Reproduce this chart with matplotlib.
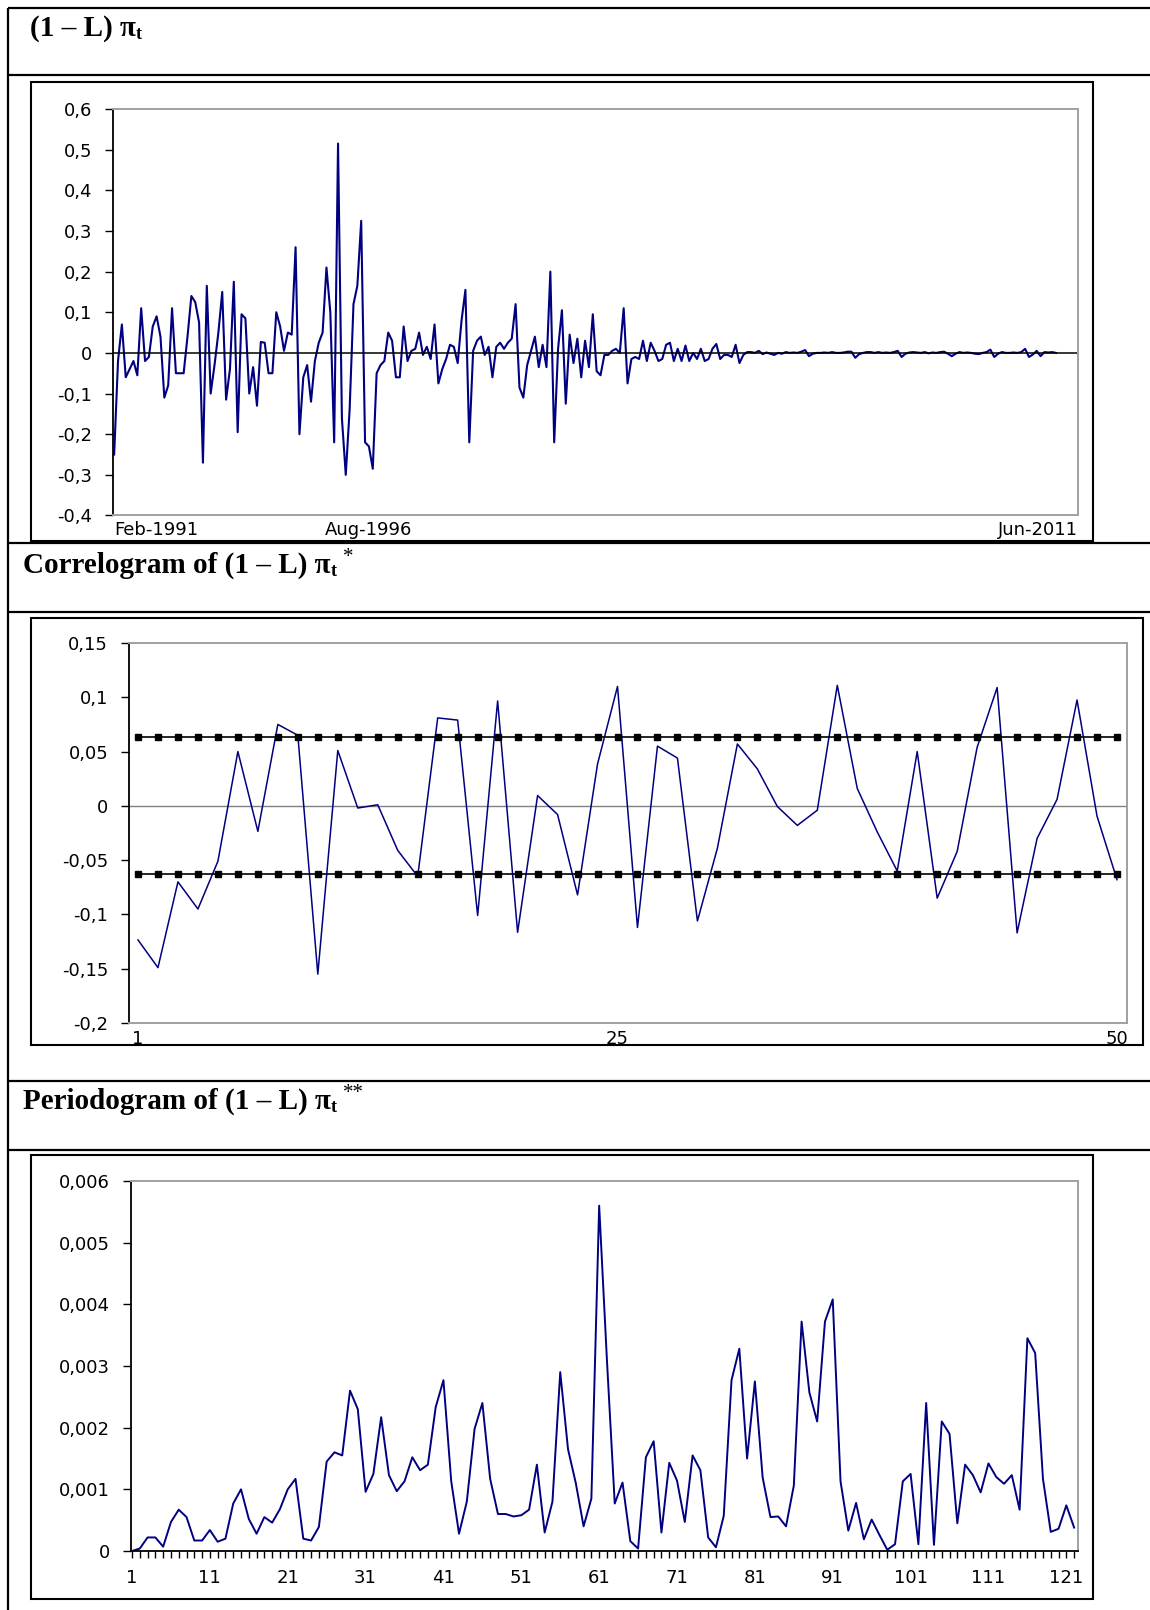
import numpy as np
import matplotlib
matplotlib.use('Agg')
import matplotlib.pyplot as plt
from matplotlib.patches import Rectangle
from matplotlib.ticker import FuncFormatter

W, H = 1150, 1610

# (1 - L) pi_t, monthly, Feb-1991 .. Jun-2011
dpi_values = [
    -0.25, -0.02, 0.07, -0.06, -0.04, -0.02, -0.055, 0.11, -0.02, -0.01,
    0.065, 0.09, 0.04, -0.11, -0.08, 0.11, -0.05, -0.05, -0.05, 0.04,
    0.14, 0.125, 0.075, -0.27, 0.165, -0.10, -0.03, 0.05, 0.15, -0.115,
    -0.04, 0.175, -0.195, 0.095, 0.085, -0.10, -0.035, -0.13, 0.027, 0.025,
    -0.05, -0.05, 0.10, 0.065, 0.005, 0.05, 0.045, 0.26, -0.20, -0.06,
    -0.03, -0.12, -0.02, 0.025, 0.05, 0.21, 0.10, -0.22, 0.515, -0.16,
    -0.30, -0.14, 0.12, 0.165, 0.325, -0.22, -0.23, -0.285, -0.05, -0.03,
    -0.02, 0.05, 0.03, -0.06, -0.06, 0.065, -0.02, 0.005, 0.01, 0.05,
    -0.005, 0.015, -0.015, 0.07, -0.075, -0.04, -0.015, 0.02, 0.015, -0.025,
    0.08, 0.155, -0.22, 0.005, 0.03, 0.04, -0.005, 0.015, -0.06, 0.015,
    0.025, 0.01, 0.025, 0.035, 0.12, -0.085, -0.11, -0.03, 0.005, 0.04,
    -0.035, 0.02, -0.035, 0.20, -0.22, 0.01, 0.105, -0.125, 0.045, -0.025,
    0.035, -0.06, 0.03, -0.035, 0.095, -0.045,
    -0.055, -0.005, -0.005, 0.005, 0.01, 0.0, 0.11, -0.075, -0.015, -0.01,
    -0.015, 0.03, -0.02, 0.025, 0.005, -0.02, -0.015, 0.02, 0.025, -0.02,
    0.01, -0.02, 0.018, -0.02, 0.0, -0.015, 0.01, -0.02, -0.015, 0.01,
    0.022, -0.015, -0.005, -0.005, -0.01, 0.02, -0.025, -0.005, 0.002,
    0.002, 0.0, 0.005, -0.003, 0.001, -0.002, -0.005, 0.0, -0.002, 0.002,
    0.0, 0.001, 0.0, 0.003, 0.007, -0.008, -0.002, 0.0, 0.0, 0.001,
    0.0, 0.002, 0.0, 0.0, 0.001, 0.003, 0.003, -0.012, -0.003, 0.0,
    0.002, 0.002, 0.0, 0.002, 0.0, 0.001, 0.0, 0.002, 0.005, -0.01,
    -0.002, 0.001, 0.002, 0.001, 0.0, 0.002, -0.001, 0.001, 0.0, 0.002,
    0.003, -0.002, -0.008, -0.002, 0.002, 0.0, 0.001, 0.0, -0.002, -0.003,
    0.0, 0.002, 0.008, -0.01, -0.002, 0.002, 0.0, 0.0, 0.001, 0.0,
    0.002, 0.01, -0.01, -0.004, 0.005, -0.008, 0.002, 0.001, 0.002, 0.0,
]
date_labels = ['Feb-1991', 'Aug-1996', 'Jun-2011']
date_label_pos = [0, 66]          # Jun-2011 sits at the right end of the axis
dpi_yticks = [-0.4, -0.3, -0.2, -0.1, 0, 0.1, 0.2, 0.3, 0.4, 0.5, 0.6]

# correlogram
acf_lags = list(range(1, 51))
acf_values = [
    -0.1235, -0.149, -0.070, -0.095, -0.051, 0.050, -0.0235, 0.075, 0.065, -0.155,
    0.051, -0.002, 0.001, -0.041, -0.065, 0.081, 0.079, -0.101, 0.0966, -0.1165,
    0.0095, -0.008, -0.082, 0.0385, 0.110, -0.112, 0.055, 0.044, -0.106, -0.039,
    0.057, 0.034, -0.0006, -0.018, -0.004, 0.111, 0.016, -0.024, -0.060, 0.050,
    -0.085, -0.042, 0.054, 0.109, -0.117, -0.030, 0.006, 0.0975, -0.0095, -0.068,
]
acf_band = 0.063
acf_xticks = [1, 25, 50]
acf_yticks = [-0.2, -0.15, -0.1, -0.05, 0, 0.05, 0.1, 0.15]

# periodogram
per_freq = list(range(1, 123))
per_values = [
    0.0, 0.00004, 0.00022, 0.00022, 0.00007, 0.00047, 0.00067, 0.00055, 0.00017, 0.00017,
    0.00034, 0.00015, 0.0002, 0.00077, 0.001, 0.00052, 0.00028, 0.00055, 0.00046, 0.00068,
    0.001, 0.00117, 0.0002, 0.00017, 0.00039, 0.00145, 0.0016, 0.00155, 0.0026, 0.0023,
    0.00096, 0.00125, 0.00217, 0.00123, 0.00097, 0.00113, 0.00152, 0.00131, 0.0014, 0.00233,
    0.00277, 0.00113, 0.00028, 0.0008, 0.00198, 0.0024, 0.00117, 0.0006, 0.0006, 0.00056,
    0.00058, 0.00067, 0.0014, 0.0003, 0.0008, 0.0029, 0.00165, 0.0011, 0.0004, 0.00085,
    0.0056, 0.00309, 0.00077, 0.00111, 0.00016, 0.00004, 0.00152, 0.00178, 0.0003, 0.00143,
    0.00114, 0.00047, 0.00155, 0.00131, 0.00022, 0.00006, 0.00057, 0.00277, 0.00328, 0.0015,
    0.00275, 0.00119, 0.00055, 0.00056, 0.0004, 0.00106, 0.00372, 0.00257, 0.0021, 0.00372,
    0.00408, 0.00113, 0.00033, 0.00078, 0.00019, 0.00051, 0.00026, 0.00002, 0.00011, 0.00113,
    0.00125, 0.00011, 0.0024, 0.0001, 0.0021, 0.0019, 0.00045, 0.0014, 0.00123, 0.00095,
    0.00142, 0.0012, 0.00109, 0.00123, 0.00067, 0.00345, 0.00321, 0.00117, 0.00031, 0.00036,
    0.00074, 0.00038,
]
per_xticks = list(range(1, 122, 10))
per_yticks = [0, 0.001, 0.002, 0.003, 0.004, 0.005, 0.006]

NAVY = '#000080'
GREY = '#a0a0a0'
SERIF = 'Liberation Serif'
plt.rcParams['font.family'] = ['DejaVu Sans']

fig = plt.figure(figsize=(W / 100, H / 100), dpi=100)

# background layer in pixel coordinates for the table frame and titles
bg = fig.add_axes([0, 0, 1, 1], zorder=0)
bg.set_xlim(0, W)
bg.set_ylim(H, 0)
bg.axis('off')

for y in [8, 75, 543, 612, 1081, 1150]:
    bg.plot([8, W], [y, y], color='black', lw=1.6, solid_capstyle='butt')
bg.plot([8, 8], [8, H], color='black', lw=1.6, solid_capstyle='butt')

for (x0, y0, x1, y1) in [(31, 82, 1093, 541), (31, 618, 1143, 1045), (31, 1155, 1093, 1599)]:
    bg.add_patch(Rectangle((x0, y0), x1 - x0, y1 - y0, fill=False,
                           edgecolor='black', lw=1.5))


def title(x, y, txt, stars='', star_base=None):
    main = bg.text(x, y, txt, fontsize=21, fontweight='bold', family=SERIF,
                   va='baseline', ha='left')
    sub = bg.annotate('t', xy=(1, 0), xycoords=main, xytext=(0, -1),
                      textcoords='offset pixels', fontsize=13, fontweight='bold',
                      family=SERIF, va='bottom', ha='left')
    if stars:
        bg.annotate(stars, xy=(1, star_base), xycoords=(sub, 'data'), xytext=(6, 0),
                    textcoords='offset pixels', fontsize=15, family=SERIF,
                    va='baseline', ha='left')


title(30, 36, '(1 – L) π')
title(23, 573, 'Correlogram of (1 – L) π', '*', 562)
title(23, 1109, 'Periodogram of (1 – L) π', '**', 1098)


def px_axes(l, t, r, b):
    ax = fig.add_axes([l / W, 1 - b / H, (r - l) / W, (b - t) / H], zorder=1)
    ax.patch.set_alpha(0)
    for s in ['top', 'right', 'bottom']:
        ax.spines[s].set_color(GREY)
        ax.spines[s].set_linewidth(1.4)
    ax.spines['left'].set_color('black')
    ax.spines['left'].set_linewidth(1.3)
    ax.tick_params(axis='y', direction='out', length=6, width=1, pad=9,
                   labelsize=13)
    ax.yaxis.set_major_formatter(FuncFormatter(lambda v, p: f'{v:g}'.replace('.', ',')))
    return ax


# chart 1: the differenced series
ax1 = px_axes(113, 109, 1078, 515.5)
x1 = np.arange(len(dpi_values))
ax1.plot(x1, dpi_values, color=NAVY, lw=1.5)
ax1.axhline(0, color='black', lw=1.1)
ax1.set_ylim(-0.4, 0.6)
ax1.set_yticks(dpi_yticks)
ax1.set_xlim(-0.3, len(dpi_values) + 4.7)
ax1.set_xticks(date_label_pos + [ax1.get_xlim()[1]])
ax1.set_xticklabels(date_labels)
for lab, ha in zip(ax1.get_xticklabels(), ['left', 'center', 'right']):
    lab.set_ha(ha)
ax1.tick_params(axis='x', length=0, pad=4, labelsize=13)

# chart 2: correlogram with +-band
ax2 = px_axes(129, 643, 1127, 1023)
ax2.axhline(0, color='#808080', lw=1)
ax2.plot(acf_lags, acf_values, color=NAVY, lw=1.1, zorder=3)
for b in [acf_band, -acf_band]:
    ax2.plot(acf_lags, [b] * len(acf_lags), color='black', lw=1.2,
             marker='s', ms=4.5, zorder=4)
ax2.set_ylim(-0.2, 0.15)
ax2.set_yticks(acf_yticks)
ax2.set_xlim(0.55, 50.5)
ax2.set_xticks(acf_xticks)
ax2.tick_params(axis='x', length=0, pad=5, labelsize=13)

# chart 3: periodogram
ax3 = px_axes(131, 1181, 1078, 1551)
ax3.plot(per_freq, per_values, color=NAVY, lw=1.4)
ax3.spines['bottom'].set_color('black')
ax3.spines['bottom'].set_linewidth(1.3)
ax3.set_ylim(0, 0.006)
ax3.set_yticks(per_yticks)
ax3.set_xlim(0.87, 122.5)
ax3.set_xticks(per_xticks)
ax3.set_xticks(per_freq, minor=True)
ax3.tick_params(axis='x', which='both', direction='out', length=5, width=1,
                color='black', pad=8, labelsize=13)

fig.savefig('out.png', dpi=100)
